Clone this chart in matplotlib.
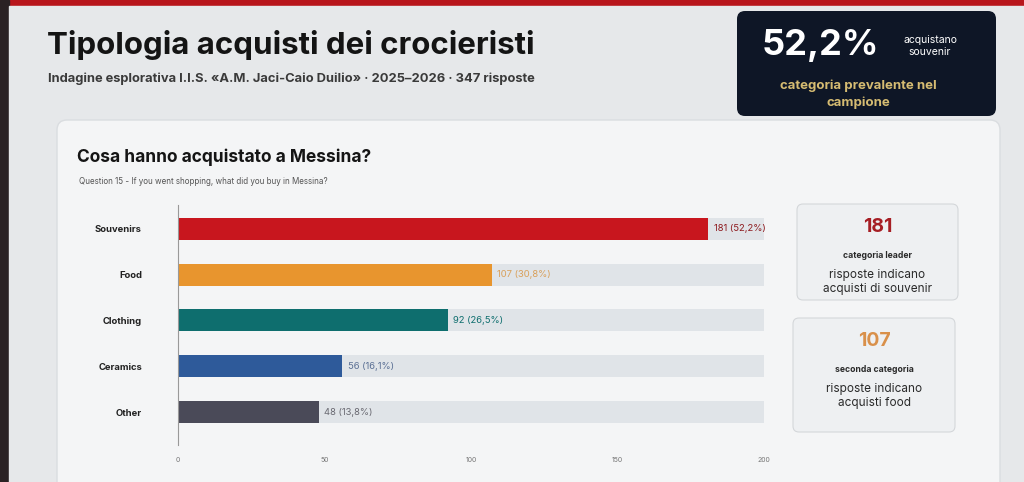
import matplotlib
matplotlib.use("Agg")
import matplotlib.pyplot as plt
from matplotlib.patches import FancyBboxPatch, Rectangle

plt.rcParams['font.family'] = ['Inter', 'DejaVu Sans']

# ---- data ----
categories = ["Souvenirs", "Food", "Clothing", "Ceramics", "Other"]
counts = [181, 107, 92, 56, 48]
percents = ["52,2%", "30,8%", "26,5%", "16,1%", "13,8%"]
bar_colors = ["#c8161e", "#e8952e", "#0e6e6e", "#2e5a9a", "#4a4a58"]
label_colors = ["#8e1a1e", "#d9a05a", "#0e6e6e", "#5a6f94", "#6a6a72"]
x_ticks = [0, 50, 100, 150, 200]
total = 347

W, H = 1024, 482
fig = plt.figure(figsize=(W / 100, H / 100), dpi=100)
fig.patch.set_facecolor("#e6e8ea")

# background axes in pixel coordinates
bg = fig.add_axes([0, 0, 1, 1])
bg.set_xlim(0, W)
bg.set_ylim(H, 0)
bg.axis("off")

# top red strip and dark screen edge
bg.add_patch(Rectangle((0, 0), W, 6, color="#b8151b", zorder=1))
bg.add_patch(Rectangle((0, 0), 9, H, color="#2a2224", zorder=1))
bg.add_patch(Rectangle((9, 6), W - 9, H, color="#e6e8ea", zorder=1))

# title
bg.text(47, 45, "Tipologia acquisti dei crocieristi", fontsize=22.5, fontweight="bold",
        color="#141414", va="center", ha="left", zorder=3)
bg.text(48, 79, "Indagine esplorativa I.I.S. «A.M. Jaci-Caio Duilio» · 2025–2026 · 347 risposte",
        fontsize=9.3, fontweight="bold", color="#3a3a3a", va="center", ha="left", zorder=3)

# dark KPI card
bg.add_patch(FancyBboxPatch((737, 11), 259, 105, boxstyle="round,pad=0,rounding_size=8",
                            facecolor="#0e1626", edgecolor="none", zorder=2))
bg.text(820, 46, "52,2%", fontsize=26, fontweight="bold", color="white",
        ha="center", va="center", zorder=3)
bg.text(930, 46, "acquistano\nsouvenir", fontsize=7.5, color="white",
        ha="center", va="center", linespacing=1.2, zorder=3)
bg.text(858, 94, "categoria prevalente nel\ncampione", fontsize=9.5, fontweight="bold",
        color="#d6bc72", ha="center", va="center", linespacing=1.45, zorder=3)

# white chart card
bg.add_patch(FancyBboxPatch((57, 120), 943, 380, boxstyle="round,pad=0,rounding_size=10",
                            facecolor="#f4f5f6", edgecolor="#dadde0", lw=1, zorder=2))
bg.text(77, 157, "Cosa hanno acquistato a Messina?", fontsize=12.5, fontweight="bold",
        color="#151515", ha="left", va="center", zorder=3)
bg.text(79, 182, "Question 15 - If you went shopping, what did you buy in Messina?",
        fontsize=5.8, color="#555555", ha="left", va="center", zorder=3)

# side KPI cards
side = [
    (797, 204, 161, 96, "181", "#a61e24", "categoria leader", "risposte indicano\nacquisti di souvenir"),
    (793, 318, 162, 114, "107", "#d9904a", "seconda categoria", "risposte indicano\nacquisti food"),
]
for (x0, y0, w, h, num, col, lab, desc) in side:
    bg.add_patch(FancyBboxPatch((x0, y0), w, h, boxstyle="round,pad=0,rounding_size=6",
                                facecolor="#eef0f2", edgecolor="#d4d7da", lw=0.8, zorder=3))
    cx = x0 + w / 2
    bg.text(cx, y0 + 23, num, fontsize=14, fontweight="bold", color=col,
            ha="center", va="center", zorder=4)
    bg.text(cx, y0 + 51, lab, fontsize=6.2, fontweight="bold", color="#2a2a2a",
            ha="center", va="center", zorder=4)
    bg.text(cx, y0 + 78, desc, fontsize=8.5, color="#2a2a2a",
            ha="center", va="center", linespacing=1.25, zorder=4)

# bar chart axes
left_px, right_px, top_px, bot_px = 178, 764, 205, 445
ax = fig.add_axes([left_px / W, 1 - bot_px / H, (right_px - left_px) / W, (bot_px - top_px) / H])
ax.set_facecolor("none")
y = list(range(len(categories)))
ax.barh(y, [200] * len(y), height=0.48, color="#e0e4e8", zorder=1)
ax.barh(y, counts, height=0.48, color=bar_colors, zorder=2)
for yi, c, p, lc in zip(y, counts, percents, label_colors):
    ax.text(c + 2, yi, f"{c} ({p})", fontsize=6.8, color=lc, va="center", ha="left", zorder=3)
ax.set_xlim(0, 200)
ax.set_ylim(4.72, -0.52)
ax.set_yticks(y)
ax.set_yticklabels(categories, fontsize=6.8, fontweight="bold", color="#222222")
ax.tick_params(axis="y", length=0, pad=26)
ax.set_xticks(x_ticks)
ax.set_xticklabels([str(t) for t in x_ticks], fontsize=5, color="#777777")
ax.tick_params(axis="x", length=0, pad=9)
for s in ["top", "right", "bottom"]:
    ax.spines[s].set_visible(False)
ax.spines["left"].set_color("#999999")
ax.spines["left"].set_linewidth(0.8)

fig.savefig("out.png", dpi=100, facecolor=fig.get_facecolor())
